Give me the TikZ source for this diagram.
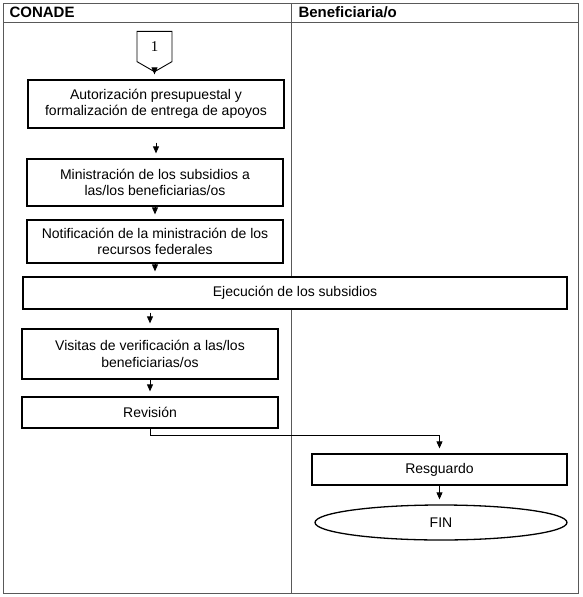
\documentclass[tikz,border=0pt]{standalone}
\usepackage{fontspec}
\setmainfont{Liberation Sans}
\newfontfamily\numfont{Liberation Serif}
\usetikzlibrary{arrows.meta,shapes.geometric,shapes.symbols}
\begin{document}
\begin{tikzpicture}[x=1pt,y=-1pt,
  frame/.style={draw=black!65,line width=1pt},
  box/.style={draw,fill=white,line width=1.3pt,align=center,inner sep=1pt,font=\fontsize{14}{16.5}\selectfont},
  lane/.style={anchor=west,font=\bfseries\fontsize{15}{15}\selectfont},
  arr/.style={-{Triangle[width=6pt,length=7pt]},line width=0.8pt,shorten >=5pt}]
\useasboundingbox (0,0) rectangle (582,597);
\draw[frame] (3,3) rectangle (578,593);
\draw[frame] (3,22) -- (578,22);
\draw[frame] (291,3) -- (291,593);
\node[lane] (conade) at (6,12.5) {CONADE};
\node[lane] (benef) at (295,12.5) {Beneficiaria/o};

% CONADE
\node[signal,signal to=south,signal pointer angle=120,draw,line width=0.9pt,
  minimum width=35pt,minimum height=33pt,inner sep=1pt,font=\numfont\fontsize{15}{15}\selectfont] (c1) at (154.5,46.5) {1};
\node[box,minimum width=256pt,minimum height=48pt] (b1) at (156,104) {Autorización presupuestal y\\formalización de entrega de apoyos};
\node[box,minimum width=256pt,minimum height=47pt] (b2) at (155,182.5) {Ministración de los subsidios a\\las/los beneficiarias/os};
\node[box,minimum width=256pt,minimum height=43pt] (b3) at (155,241.5) {Notificación de la ministración de los\\recursos federales};
\node[box,minimum width=544pt,minimum height=32pt] (b4) at (295,293) {Ejecución de los subsidios};
\node[box,minimum width=256pt,minimum height=50pt] (b5) at (150,354) {Visitas de verificación a las/los\\beneficiarias/os};
\node[box,minimum width=256pt,minimum height=31pt] (b6) at (150,412.5) {Revisión};

% Beneficiaria/o
\node[box,minimum width=255pt,minimum height=31pt] (b7) at (439.5,469.5) {Resguardo};
\node[box,ellipse,minimum width=252pt,minimum height=35pt,inner sep=0pt] (fin) at (441,522.5) {FIN};

\draw[arr] (c1.south) -- (c1.south |- b1.north);
\draw[arr,shorten <=14pt] (b1.south) -- (b1.south |- b2.north);
\foreach \a/\b in {b2/b3,b3/b4,b5/b6,b7/fin} {\draw[arr] (\a.south) -- (\a.south |- \b.north);}
\draw[arr,shorten <=3pt] (b5.north |- b4.south) -- (b5.north);
\draw[arr] (b6.south) -- ++(0,7) -| (b7.north);
\end{tikzpicture}
\end{document}
